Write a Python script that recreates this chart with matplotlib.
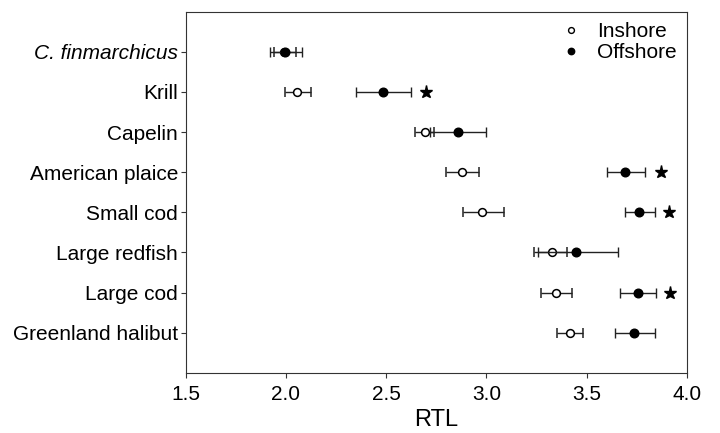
import matplotlib.pyplot as plt
import numpy as np

plt.rcParams['font.family'] = ['Liberation Sans', 'DejaVu Sans']

species = ["C. finmarchicus", "Krill", "Capelin", "American plaice", "Small cod",
           "Large redfish", "Large cod", "Greenland halibut"]
inshore = [1.99, 2.055, 2.693, 2.877, 2.98, 3.325, 3.346, 3.415]
inshore_lo = [1.939, 1.995, 2.643, 2.80, 2.884, 3.237, 3.272, 3.354]
inshore_hi = [2.049, 2.123, 2.74, 2.963, 3.087, 3.403, 3.427, 3.483]
offshore = [1.996, 2.485, 2.856, 3.69, 3.762, 3.445, 3.754, 3.738]
offshore_lo = [1.918, 2.35, 2.72, 3.60, 3.69, 3.258, 3.668, 3.642]
offshore_hi = [2.082, 2.626, 3.0, 3.79, 3.842, 3.657, 3.845, 3.84]
# significant differences marked with a star
star_x = [None, 2.70, None, 3.871, 3.91, None, 3.914, None]

y = np.arange(1, len(species) + 1)

fig = plt.figure(figsize=(7.2, 4.33), dpi=100)
ax = fig.add_axes([0.258, 0.139, 0.696, 0.834])

ins = np.array(inshore)
off = np.array(offshore)
ax.errorbar(ins, y, xerr=[ins - inshore_lo, np.array(inshore_hi) - ins], fmt='o',
            mfc='white', mec='black', ecolor='#222222', ms=5.6, mew=1.1,
            elinewidth=1, capsize=3.6, capthick=1, zorder=3)
ax.errorbar(off, y, xerr=[off - offshore_lo, np.array(offshore_hi) - off], fmt='o',
            mfc='black', mec='black', ecolor='#222222', ms=6.2, elinewidth=1,
            capsize=3.6, capthick=1, zorder=4)
for yy, sx in zip(y, star_x):
    if sx is not None:
        ax.plot(sx, yy, marker='*', color='black', ms=9.5, ls='none')

# legend
ax.plot([], [], 'o', mfc='white', mec='black', ms=4.2, mew=1, label='Inshore')
ax.plot([], [], 'o', mfc='black', mec='black', ms=4.6, label='Offshore')
ax.legend(loc='upper right', frameon=False, fontsize=15, handletextpad=0.75,
          borderaxespad=0.4, borderpad=0.1, labelspacing=0.1, handlelength=1.0)

ax.set_xlim(1.5, 4.0)
ax.set_ylim(len(species) + 1, 0)
ax.set_xticks([1.5, 2.0, 2.5, 3.0, 3.5, 4.0])
ax.set_xticklabels(["1.5", "2.0", "2.5", "3.0", "3.5", "4.0"])
ax.set_yticks(y)
ax.set_yticklabels(species)
ax.get_yticklabels()[0].set_style('italic')
ax.tick_params(axis='both', labelsize=15, direction='out', length=3.5, color='#333333')
ax.tick_params(axis='y', pad=2)
ax.tick_params(axis='x', pad=5)
ax.set_xlabel("RTL", fontsize=17, labelpad=4)
for s in ax.spines.values():
    s.set_color('#333333')

plt.savefig("out.png", dpi=100)
